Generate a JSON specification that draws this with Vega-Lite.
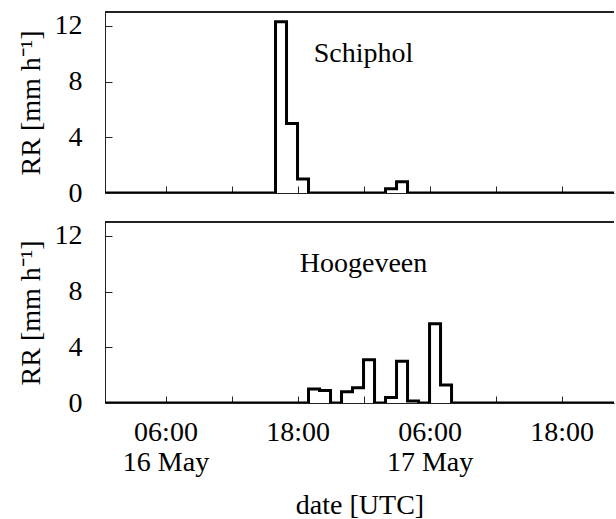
{
  "$schema": "https://vega.github.io/schema/vega-lite/v6.json",
  "background": "white",
  "padding": {"left": 17, "top": 11, "right": 0, "bottom": 0},
  "bounds": "flush",
  "spacing": 29,
  "config": {
    "font": "Liberation Serif",
    "view": {"stroke": null},
    "axis": {
      "labelFont": "Liberation Serif",
      "titleFont": "Liberation Serif",
      "labelFontSize": 28,
      "titleFontSize": 28,
      "labelColor": "black",
      "titleColor": "black",
      "titleFontWeight": "normal",
      "domainColor": "#222",
      "tickColor": "#222",
      "domainWidth": 1,
      "tickWidth": 1,
      "grid": false,
      "tickSize": -7
    }
  },
  "datasets": {
    "rr": [
      {"station": "Schiphol", "time": "2020-05-16T00:00:00Z", "rr": 0},
      {"station": "Schiphol", "time": "2020-05-16T01:00:00Z", "rr": 0},
      {"station": "Schiphol", "time": "2020-05-16T02:00:00Z", "rr": 0},
      {"station": "Schiphol", "time": "2020-05-16T03:00:00Z", "rr": 0},
      {"station": "Schiphol", "time": "2020-05-16T04:00:00Z", "rr": 0},
      {"station": "Schiphol", "time": "2020-05-16T05:00:00Z", "rr": 0},
      {"station": "Schiphol", "time": "2020-05-16T06:00:00Z", "rr": 0},
      {"station": "Schiphol", "time": "2020-05-16T07:00:00Z", "rr": 0},
      {"station": "Schiphol", "time": "2020-05-16T08:00:00Z", "rr": 0},
      {"station": "Schiphol", "time": "2020-05-16T09:00:00Z", "rr": 0},
      {"station": "Schiphol", "time": "2020-05-16T10:00:00Z", "rr": 0},
      {"station": "Schiphol", "time": "2020-05-16T11:00:00Z", "rr": 0},
      {"station": "Schiphol", "time": "2020-05-16T12:00:00Z", "rr": 0},
      {"station": "Schiphol", "time": "2020-05-16T13:00:00Z", "rr": 0},
      {"station": "Schiphol", "time": "2020-05-16T14:00:00Z", "rr": 0},
      {"station": "Schiphol", "time": "2020-05-16T15:00:00Z", "rr": 0},
      {"station": "Schiphol", "time": "2020-05-16T16:00:00Z", "rr": 12.3},
      {"station": "Schiphol", "time": "2020-05-16T17:00:00Z", "rr": 5.0},
      {"station": "Schiphol", "time": "2020-05-16T18:00:00Z", "rr": 1.0},
      {"station": "Schiphol", "time": "2020-05-16T19:00:00Z", "rr": 0},
      {"station": "Schiphol", "time": "2020-05-16T20:00:00Z", "rr": 0},
      {"station": "Schiphol", "time": "2020-05-16T21:00:00Z", "rr": 0},
      {"station": "Schiphol", "time": "2020-05-16T22:00:00Z", "rr": 0},
      {"station": "Schiphol", "time": "2020-05-16T23:00:00Z", "rr": 0},
      {"station": "Schiphol", "time": "2020-05-17T00:00:00Z", "rr": 0},
      {"station": "Schiphol", "time": "2020-05-17T01:00:00Z", "rr": 0},
      {"station": "Schiphol", "time": "2020-05-17T02:00:00Z", "rr": 0.3},
      {"station": "Schiphol", "time": "2020-05-17T03:00:00Z", "rr": 0.8},
      {"station": "Schiphol", "time": "2020-05-17T04:00:00Z", "rr": 0},
      {"station": "Schiphol", "time": "2020-05-17T05:00:00Z", "rr": 0},
      {"station": "Schiphol", "time": "2020-05-17T06:00:00Z", "rr": 0},
      {"station": "Schiphol", "time": "2020-05-17T07:00:00Z", "rr": 0},
      {"station": "Schiphol", "time": "2020-05-17T08:00:00Z", "rr": 0},
      {"station": "Schiphol", "time": "2020-05-17T09:00:00Z", "rr": 0},
      {"station": "Schiphol", "time": "2020-05-17T10:00:00Z", "rr": 0},
      {"station": "Schiphol", "time": "2020-05-17T11:00:00Z", "rr": 0},
      {"station": "Schiphol", "time": "2020-05-17T12:00:00Z", "rr": 0},
      {"station": "Schiphol", "time": "2020-05-17T13:00:00Z", "rr": 0},
      {"station": "Schiphol", "time": "2020-05-17T14:00:00Z", "rr": 0},
      {"station": "Schiphol", "time": "2020-05-17T15:00:00Z", "rr": 0},
      {"station": "Schiphol", "time": "2020-05-17T16:00:00Z", "rr": 0},
      {"station": "Schiphol", "time": "2020-05-17T17:00:00Z", "rr": 0},
      {"station": "Schiphol", "time": "2020-05-17T18:00:00Z", "rr": 0},
      {"station": "Schiphol", "time": "2020-05-17T19:00:00Z", "rr": 0},
      {"station": "Schiphol", "time": "2020-05-17T20:00:00Z", "rr": 0},
      {"station": "Schiphol", "time": "2020-05-17T21:00:00Z", "rr": 0},
      {"station": "Schiphol", "time": "2020-05-17T22:00:00Z", "rr": 0},
      {"station": "Schiphol", "time": "2020-05-17T23:00:00Z", "rr": 0},
      {"station": "Schiphol", "time": "2020-05-18T00:00:00Z", "rr": 0},
      {"station": "Hoogeveen", "time": "2020-05-16T00:00:00Z", "rr": 0},
      {"station": "Hoogeveen", "time": "2020-05-16T01:00:00Z", "rr": 0},
      {"station": "Hoogeveen", "time": "2020-05-16T02:00:00Z", "rr": 0},
      {"station": "Hoogeveen", "time": "2020-05-16T03:00:00Z", "rr": 0},
      {"station": "Hoogeveen", "time": "2020-05-16T04:00:00Z", "rr": 0},
      {"station": "Hoogeveen", "time": "2020-05-16T05:00:00Z", "rr": 0},
      {"station": "Hoogeveen", "time": "2020-05-16T06:00:00Z", "rr": 0},
      {"station": "Hoogeveen", "time": "2020-05-16T07:00:00Z", "rr": 0},
      {"station": "Hoogeveen", "time": "2020-05-16T08:00:00Z", "rr": 0},
      {"station": "Hoogeveen", "time": "2020-05-16T09:00:00Z", "rr": 0},
      {"station": "Hoogeveen", "time": "2020-05-16T10:00:00Z", "rr": 0},
      {"station": "Hoogeveen", "time": "2020-05-16T11:00:00Z", "rr": 0},
      {"station": "Hoogeveen", "time": "2020-05-16T12:00:00Z", "rr": 0},
      {"station": "Hoogeveen", "time": "2020-05-16T13:00:00Z", "rr": 0},
      {"station": "Hoogeveen", "time": "2020-05-16T14:00:00Z", "rr": 0},
      {"station": "Hoogeveen", "time": "2020-05-16T15:00:00Z", "rr": 0},
      {"station": "Hoogeveen", "time": "2020-05-16T16:00:00Z", "rr": 0},
      {"station": "Hoogeveen", "time": "2020-05-16T17:00:00Z", "rr": 0},
      {"station": "Hoogeveen", "time": "2020-05-16T18:00:00Z", "rr": 0},
      {"station": "Hoogeveen", "time": "2020-05-16T19:00:00Z", "rr": 1.0},
      {"station": "Hoogeveen", "time": "2020-05-16T20:00:00Z", "rr": 0.9},
      {"station": "Hoogeveen", "time": "2020-05-16T21:00:00Z", "rr": 0},
      {"station": "Hoogeveen", "time": "2020-05-16T22:00:00Z", "rr": 0.8},
      {"station": "Hoogeveen", "time": "2020-05-16T23:00:00Z", "rr": 1.1},
      {"station": "Hoogeveen", "time": "2020-05-17T00:00:00Z", "rr": 3.1},
      {"station": "Hoogeveen", "time": "2020-05-17T01:00:00Z", "rr": 0},
      {"station": "Hoogeveen", "time": "2020-05-17T02:00:00Z", "rr": 0.4},
      {"station": "Hoogeveen", "time": "2020-05-17T03:00:00Z", "rr": 3.0},
      {"station": "Hoogeveen", "time": "2020-05-17T04:00:00Z", "rr": 0.15},
      {"station": "Hoogeveen", "time": "2020-05-17T05:00:00Z", "rr": 0},
      {"station": "Hoogeveen", "time": "2020-05-17T06:00:00Z", "rr": 5.7},
      {"station": "Hoogeveen", "time": "2020-05-17T07:00:00Z", "rr": 1.3},
      {"station": "Hoogeveen", "time": "2020-05-17T08:00:00Z", "rr": 0},
      {"station": "Hoogeveen", "time": "2020-05-17T09:00:00Z", "rr": 0},
      {"station": "Hoogeveen", "time": "2020-05-17T10:00:00Z", "rr": 0},
      {"station": "Hoogeveen", "time": "2020-05-17T11:00:00Z", "rr": 0},
      {"station": "Hoogeveen", "time": "2020-05-17T12:00:00Z", "rr": 0},
      {"station": "Hoogeveen", "time": "2020-05-17T13:00:00Z", "rr": 0},
      {"station": "Hoogeveen", "time": "2020-05-17T14:00:00Z", "rr": 0},
      {"station": "Hoogeveen", "time": "2020-05-17T15:00:00Z", "rr": 0},
      {"station": "Hoogeveen", "time": "2020-05-17T16:00:00Z", "rr": 0},
      {"station": "Hoogeveen", "time": "2020-05-17T17:00:00Z", "rr": 0},
      {"station": "Hoogeveen", "time": "2020-05-17T18:00:00Z", "rr": 0},
      {"station": "Hoogeveen", "time": "2020-05-17T19:00:00Z", "rr": 0},
      {"station": "Hoogeveen", "time": "2020-05-17T20:00:00Z", "rr": 0},
      {"station": "Hoogeveen", "time": "2020-05-17T21:00:00Z", "rr": 0},
      {"station": "Hoogeveen", "time": "2020-05-17T22:00:00Z", "rr": 0},
      {"station": "Hoogeveen", "time": "2020-05-17T23:00:00Z", "rr": 0},
      {"station": "Hoogeveen", "time": "2020-05-18T00:00:00Z", "rr": 0}
    ]
  },
  "vconcat": [
    {
      "width": 509,
      "height": 181,
      "data": {"name": "rr"},
      "transform": [{"filter": "datum.station === 'Schiphol'"}],
      "layer": [
        {
          "mark": {"type": "rule", "color": "#222", "strokeWidth": 1},
          "encoding": {"y": {"datum": 13}}
        },
        {
          "mark": {"type": "line", "interpolate": "step-after", "color": "black", "strokeWidth": 3, "clip": true},
          "encoding": {
            "x": {
              "field": "time", "type": "temporal",
              "scale": {"type": "utc", "domain": [{"year": 2020, "month": 5, "date": 16, "hours": 0, "minutes": 30, "utc": true}, {"year": 2020, "month": 5, "date": 17, "hours": 22, "minutes": 46, "utc": true}]},
              "axis": {
                "title": null, "labels": false,
                "values": [
                  {"year": 2020, "month": 5, "date": 16, "hours": 6, "utc": true},
                  {"year": 2020, "month": 5, "date": 16, "hours": 12, "utc": true},
                  {"year": 2020, "month": 5, "date": 16, "hours": 18, "utc": true},
                  {"year": 2020, "month": 5, "date": 17, "hours": 0, "utc": true},
                  {"year": 2020, "month": 5, "date": 17, "hours": 6, "utc": true},
                  {"year": 2020, "month": 5, "date": 17, "hours": 12, "utc": true},
                  {"year": 2020, "month": 5, "date": 17, "hours": 18, "utc": true}
                ]
              }
            },
            "y": {
              "field": "rr", "type": "quantitative",
              "scale": {"domain": [0, 13], "nice": false},
              "axis": {"values": [0, 4, 8, 12], "title": "RR [mm h⁻¹]", "labelPadding": 30, "titlePadding": 9}
            }
          }
        },
        {
          "data": {"values": [{"label": "Schiphol"}]},
          "mark": {"type": "text", "font": "Liberation Serif", "fontSize": 28, "color": "black", "align": "center", "baseline": "middle"},
          "encoding": {
            "x": {"datum": {"year": 2020, "month": 5, "date": 17, "hours": 0, "utc": true}, "type": "temporal"},
            "y": {"datum": 10, "type": "quantitative"},
            "text": {"field": "label"}
          }
        }
      ]
    },
    {
      "width": 509,
      "height": 181,
      "data": {"name": "rr"},
      "transform": [{"filter": "datum.station === 'Hoogeveen'"}],
      "layer": [
        {
          "mark": {"type": "rule", "color": "#222", "strokeWidth": 1},
          "encoding": {"y": {"datum": 13}}
        },
        {
          "mark": {"type": "line", "interpolate": "step-after", "color": "black", "strokeWidth": 3, "clip": true},
          "encoding": {
            "x": {
              "field": "time", "type": "temporal",
              "scale": {"type": "utc", "domain": [{"year": 2020, "month": 5, "date": 16, "hours": 0, "minutes": 30, "utc": true}, {"year": 2020, "month": 5, "date": 17, "hours": 22, "minutes": 46, "utc": true}]},
              "axis": {
                "title": "date [UTC]",
                "titlePadding": 15,
                "labelPadding": 22,
                "labelLineHeight": 30,
                "labelExpr": "utchours(datum.value) == 6 ? [utcFormat(datum.value, '%H:%M'), utcFormat(datum.value, '%d %b')] : (utchours(datum.value) == 18 ? utcFormat(datum.value, '%H:%M') : '')",
                "values": [
                  {"year": 2020, "month": 5, "date": 16, "hours": 6, "utc": true},
                  {"year": 2020, "month": 5, "date": 16, "hours": 12, "utc": true},
                  {"year": 2020, "month": 5, "date": 16, "hours": 18, "utc": true},
                  {"year": 2020, "month": 5, "date": 17, "hours": 0, "utc": true},
                  {"year": 2020, "month": 5, "date": 17, "hours": 6, "utc": true},
                  {"year": 2020, "month": 5, "date": 17, "hours": 12, "utc": true},
                  {"year": 2020, "month": 5, "date": 17, "hours": 18, "utc": true}
                ]
              }
            },
            "y": {
              "field": "rr", "type": "quantitative",
              "scale": {"domain": [0, 13], "nice": false},
              "axis": {"values": [0, 4, 8, 12], "title": "RR [mm h⁻¹]", "labelPadding": 30, "titlePadding": 9}
            }
          }
        },
        {
          "data": {"values": [{"label": "Hoogeveen"}]},
          "mark": {"type": "text", "font": "Liberation Serif", "fontSize": 28, "color": "black", "align": "center", "baseline": "middle"},
          "encoding": {
            "x": {"datum": {"year": 2020, "month": 5, "date": 17, "hours": 0, "utc": true}, "type": "temporal"},
            "y": {"datum": 10, "type": "quantitative"},
            "text": {"field": "label"}
          }
        }
      ]
    }
  ]
}
